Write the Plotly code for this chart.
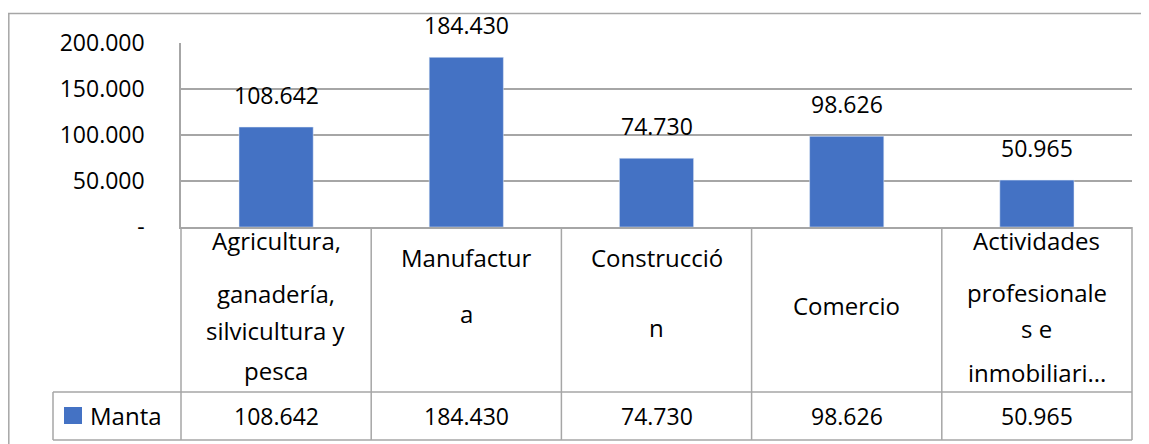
import plotly.graph_objects as go

# ---- data ----
categories = ["Agricultura, ganadería, silvicultura y pesca", "Manufactura",
              "Construcción", "Comercio", "Actividades profesionales e inmobiliarias"]
category_lines = [
    ["Agricultura,", "ganadería,", "silvicultura y", "pesca"],
    ["Manufactur", "a"],
    ["Construcció", "n"],
    ["Comercio"],
    ["Actividades", "profesionale", "s e", "inmobiliari..."],
]
series_name = "Manta"
values = [108642, 184430, 74730, 98626, 50965]
tick_vals = [0, 50000, 100000, 150000, 200000]
tick_text = ["-", "50.000", "100.000", "150.000", "200.000"]

# ---- layout geometry (pixels in the window) ----
W, H = 1149, 444
OX, OY = 8, 8           # default page body margin
L, R, T, B = 181, 1132, 43, 227
PW, PH = R - L, B - T
BAR = "#4472C4"
GRID = "#A6A6A6"
FONT = "Open Sans"
FS = 23
FS_CAT = 24


def fmt(v):
    return f"{v:,}".replace(",", ".")


def px_x(px):
    return (px - L) / PW


def px_y(py):
    return (B - py) / PH


# header text line y positions (pixels) per category
line_y = [
    [240, 293, 330, 370],
    [257, 313],
    [257, 327],
    [305],
    [240, 292, 328, 372],
]
row_top, row_bot = 392, 440
legend_left = 53

fig = go.Figure()
fig.add_trace(go.Bar(x=categories, y=values, name=series_name, marker_color=BAR,
                     width=0.39, showlegend=False, hoverinfo="skip"))

annotations = []
# data labels above bars
for c, v in zip(categories, values):
    annotations.append(dict(x=c, y=v, xref="x", yref="y", text=fmt(v), showarrow=False,
                            yanchor="bottom", yshift=14, font=dict(size=FS, color="black", family=FONT)))
# header cells
for c, lines, ys in zip(categories, category_lines, line_y):
    for t, py in zip(lines, ys):
        annotations.append(dict(x=c, y=px_y(py), xref="x", yref="paper", text=t, showarrow=False,
                                yanchor="middle", font=dict(size=FS_CAT, color="black", family=FONT)))
# data row
for c, v in zip(categories, values):
    annotations.append(dict(x=c, y=px_y((row_top + row_bot) / 2), xref="x", yref="paper", text=fmt(v),
                            showarrow=False, yanchor="middle", font=dict(size=FS, color="black", family=FONT)))
# legend text
annotations.append(dict(x=px_x(88), y=px_y(415), xref="paper", yref="paper", text=series_name,
                        showarrow=False, xanchor="left", yanchor="middle",
                        font=dict(size=FS_CAT, color="black", family=FONT)))

shapes = []
line = dict(color=GRID, width=1.5)
# outer border (top and left)
shapes.append(dict(type="line", xref="paper", yref="paper", x0=px_x(8), x1=px_x(W + 5),
                   y0=px_y(13.5), y1=px_y(13.5), line=line))
shapes.append(dict(type="line", xref="paper", yref="paper", x0=px_x(8.8), x1=px_x(8.8),
                   y0=px_y(13), y1=px_y(H + 5), line=line))
# table horizontal lines
for py in (row_top, row_bot):
    shapes.append(dict(type="line", xref="paper", yref="paper", x0=px_x(legend_left), x1=1,
                       y0=px_y(py), y1=px_y(py), line=line))
# table vertical lines
n = len(categories)
for i in range(n + 1):
    shapes.append(dict(type="line", xref="paper", yref="paper", x0=i / n, x1=i / n,
                       y0=px_y(B), y1=px_y(row_bot), line=line))
shapes.append(dict(type="line", xref="paper", yref="paper", x0=px_x(legend_left), x1=px_x(legend_left),
                   y0=px_y(row_top), y1=px_y(row_bot), line=line))
# legend key
shapes.append(dict(type="rect", xref="paper", yref="paper", x0=px_x(64), x1=px_x(82),
                   y0=px_y(424), y1=px_y(407), fillcolor=BAR, line=dict(width=0)))

fig.update_layout(
    width=W - OX, height=H - OY,
    margin=dict(l=L - OX, r=W - R, t=T - OY, b=H - B),
    paper_bgcolor="white", plot_bgcolor="white",
    annotations=annotations, shapes=shapes,
    font=dict(family=FONT, size=FS, color="black"),
    xaxis=dict(range=[-0.5, n - 0.5], showticklabels=False, showgrid=False, zeroline=False,
               showline=True, linecolor=GRID, linewidth=1.5, ticks=""),
    yaxis=dict(range=[0, 200000], tickvals=tick_vals, ticktext=tick_text, showgrid=True,
               gridcolor=GRID, gridwidth=1.5, zeroline=False, showline=True, linecolor=GRID,
               linewidth=1.5, ticks="", ticklabelstandoff=30,
               tickfont=dict(size=FS, color="black", family=FONT)),
    bargap=0.6,
)

fig.write_html("out.html")
